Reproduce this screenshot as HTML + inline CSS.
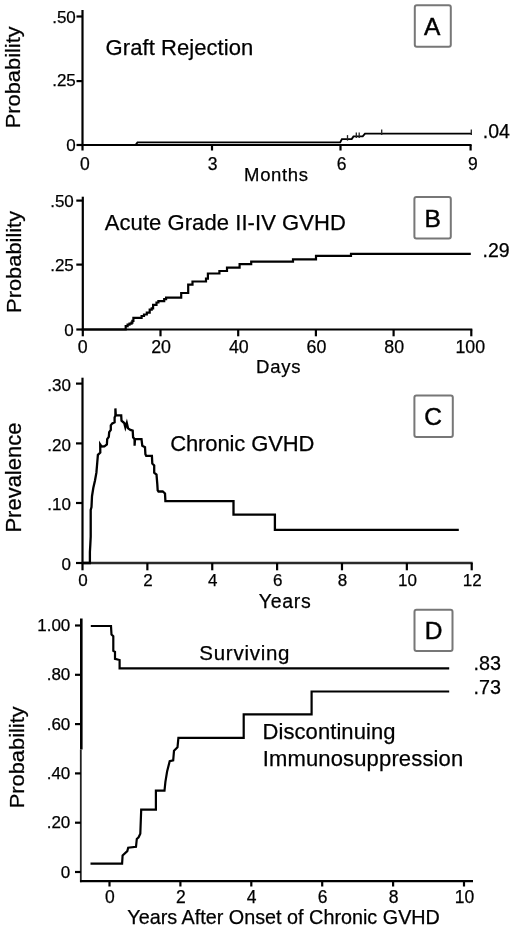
<!DOCTYPE html>
<html><head><meta charset="utf-8"><style>
html,body{margin:0;padding:0;background:#fff;}
svg{display:block;filter:grayscale(100%) blur(0.35px);}
text{font-family:"Liberation Sans", sans-serif;stroke:#000;stroke-width:0.25px;}
</style></head><body>
<svg width="520" height="930" viewBox="0 0 520 930">
<rect width="520" height="930" fill="#fff"/>
<line x1="82.5" y1="10" x2="82.5" y2="146" stroke="#000" stroke-width="2.2"/>
<line x1="81.5" y1="145" x2="471.6" y2="145" stroke="#000" stroke-width="2.2"/>
<line x1="76.5" y1="16.5" x2="82.5" y2="16.5" stroke="#000" stroke-width="2.2"/>
<text x="75.8" y="22.6" font-size="17" text-anchor="end" fill="#000" >.50</text>
<line x1="76.5" y1="81.1" x2="82.5" y2="81.1" stroke="#000" stroke-width="2.2"/>
<text x="75.8" y="85.8" font-size="17" text-anchor="end" fill="#000" >.25</text>
<line x1="76.5" y1="145" x2="82.5" y2="145" stroke="#000" stroke-width="2.2"/>
<text x="75.8" y="151.3" font-size="17" text-anchor="end" fill="#000" >0</text>
<line x1="82.5" y1="145" x2="82.5" y2="150.5" stroke="#000" stroke-width="2.2"/>
<text x="84.9" y="169.5" font-size="17.5" text-anchor="middle" fill="#000" >0</text>
<line x1="212" y1="145" x2="212" y2="150.5" stroke="#000" stroke-width="2.2"/>
<text x="212.5" y="169.5" font-size="17.5" text-anchor="middle" fill="#000" >3</text>
<line x1="340.5" y1="145" x2="340.5" y2="150.5" stroke="#000" stroke-width="2.2"/>
<text x="341.5" y="169.5" font-size="17.5" text-anchor="middle" fill="#000" >6</text>
<line x1="470.6" y1="145" x2="470.6" y2="150.5" stroke="#000" stroke-width="2.2"/>
<text x="472.8" y="169.5" font-size="17.5" text-anchor="middle" fill="#000" >9</text>
<text x="244.1" y="181" font-size="18.5" text-anchor="start" fill="#000" textLength="63.9">Months</text>
<text x="0" y="0" font-size="21" fill="#000" textLength="102" lengthAdjust="spacingAndGlyphs" transform="translate(20.3,128.3) rotate(-90)">Probability</text>
<text x="105.6" y="54.5" font-size="22" text-anchor="start" fill="#000" textLength="147.6">Graft Rejection</text>
<rect x="414.8" y="5.2" width="36.0" height="41.5" rx="2" fill="none" stroke="#777" stroke-width="2"/>
<text x="432.2" y="35.3" font-size="24.5" text-anchor="middle" fill="#000" style="stroke-width:0.45px">A</text>
<polyline points="82.5,145.0 135.5,145.0 137.5,142.4 340.2,142.4 341.9,139.1 351.7,139.1 353.5,136.4 362.7,136.4 365.0,133.6 471.7,133.6" fill="none" stroke="#000" stroke-width="1.9" stroke-linejoin="miter" stroke-linecap="butt"/>
<line x1="347.5" y1="135.1" x2="347.5" y2="140.6" stroke="#222" stroke-width="1.3"/>
<line x1="356.3" y1="132.4" x2="356.3" y2="137.9" stroke="#222" stroke-width="1.3"/>
<line x1="359.2" y1="132.4" x2="359.2" y2="137.9" stroke="#222" stroke-width="1.3"/>
<line x1="381.7" y1="129.6" x2="381.7" y2="135.1" stroke="#222" stroke-width="1.3"/>
<line x1="471.3" y1="129.6" x2="471.3" y2="135.1" stroke="#222" stroke-width="1.3"/>
<text x="482.8" y="137.7" font-size="19.5" text-anchor="start" fill="#000" >.04</text>
<line x1="82.8" y1="196.7" x2="82.8" y2="330.5" stroke="#000" stroke-width="2.2"/>
<line x1="81.8" y1="329.5" x2="472.3" y2="329.5" stroke="#000" stroke-width="2.2"/>
<line x1="76.3" y1="200.6" x2="82.8" y2="200.6" stroke="#000" stroke-width="2.2"/>
<text x="73.8" y="206.9" font-size="17" text-anchor="end" fill="#000" >.50</text>
<line x1="76.3" y1="264.6" x2="82.8" y2="264.6" stroke="#000" stroke-width="2.2"/>
<text x="73.8" y="270.90000000000003" font-size="17" text-anchor="end" fill="#000" >.25</text>
<line x1="76.3" y1="329.5" x2="82.8" y2="329.5" stroke="#000" stroke-width="2.2"/>
<text x="73.8" y="335.8" font-size="17" text-anchor="end" fill="#000" >0</text>
<line x1="82.8" y1="329.5" x2="82.8" y2="336.3" stroke="#000" stroke-width="2.2"/>
<text x="82.8" y="352.8" font-size="17.8" text-anchor="middle" fill="#000" >0</text>
<line x1="160.5" y1="329.5" x2="160.5" y2="336.3" stroke="#000" stroke-width="2.2"/>
<text x="161.1" y="352.8" font-size="17.8" text-anchor="middle" fill="#000" >20</text>
<line x1="238.2" y1="329.5" x2="238.2" y2="336.3" stroke="#000" stroke-width="2.2"/>
<text x="238.79999999999998" y="352.8" font-size="17.8" text-anchor="middle" fill="#000" >40</text>
<line x1="315.90000000000003" y1="329.5" x2="315.90000000000003" y2="336.3" stroke="#000" stroke-width="2.2"/>
<text x="316.50000000000006" y="352.8" font-size="17.8" text-anchor="middle" fill="#000" >60</text>
<line x1="393.6" y1="329.5" x2="393.6" y2="336.3" stroke="#000" stroke-width="2.2"/>
<text x="394.20000000000005" y="352.8" font-size="17.8" text-anchor="middle" fill="#000" >80</text>
<line x1="471.3" y1="329.5" x2="471.3" y2="336.3" stroke="#000" stroke-width="2.2"/>
<text x="470.3" y="352.8" font-size="17.8" text-anchor="middle" fill="#000" >100</text>
<text x="256.1" y="372.7" font-size="18.5" text-anchor="start" fill="#000" textLength="44.4">Days</text>
<text x="0" y="0" font-size="21" fill="#000" textLength="102" lengthAdjust="spacingAndGlyphs" transform="translate(20.7,312.9) rotate(-90)">Probability</text>
<text x="104.8" y="230.2" font-size="22" text-anchor="start" fill="#000" textLength="241">Acute Grade II-IV GVHD</text>
<rect x="414.4" y="196.9" width="36.400000000000034" height="41.599999999999994" rx="2" fill="none" stroke="#777" stroke-width="2"/>
<text x="432.6" y="226.8" font-size="24.5" text-anchor="middle" fill="#000" style="stroke-width:0.45px">B</text>
<polyline points="82.8,329.5 124.7,329.5 124.7,329.5 125.7,329.5 125.7,326.1 127.6,326.1 127.6,324.6 129.5,324.6 129.5,323.7 131.5,323.7 131.5,322.7 132.4,322.7 132.4,320.8 133.4,320.8 133.4,317.9 141.6,317.9 141.6,316.0 144.0,316.0 144.0,314.5 146.8,314.5 146.8,312.6 149.7,312.6 149.7,309.7 151.7,309.7 151.7,308.3 153.1,308.3 153.1,304.9 156.5,304.9 156.5,302.5 158.4,302.5 158.4,301.1 164.2,301.1 164.2,299.1 166.1,299.1 166.1,297.7 181.2,297.7 181.2,293.0 188.2,293.0 188.2,284.6 192.5,284.6 192.5,281.5 206.0,281.5 206.0,278.7 207.9,278.7 207.9,273.5 219.4,273.5 219.4,271.0 227.0,271.0 227.0,267.7 239.6,267.7 239.6,264.2 251.2,264.2 251.2,261.7 293.0,261.7 293.0,259.3 316.0,259.3 316.0,255.8 351.0,255.8 351.0,253.8 470.8,253.8 470.8,253.8" fill="none" stroke="#000" stroke-width="2.2" stroke-linejoin="miter" stroke-linecap="butt"/>
<text x="482.6" y="256.6" font-size="19.5" text-anchor="start" fill="#000" >.29</text>
<line x1="82.5" y1="377.7" x2="82.5" y2="564" stroke="#000" stroke-width="2.2"/>
<line x1="81.5" y1="563" x2="472.7" y2="563" stroke="#2a2a2a" stroke-width="2.3"/>
<line x1="76" y1="383.6" x2="82.5" y2="383.6" stroke="#000" stroke-width="2.2"/>
<text x="71.0" y="390.90000000000003" font-size="17" text-anchor="end" fill="#000" >.30</text>
<line x1="76" y1="443.4" x2="82.5" y2="443.4" stroke="#000" stroke-width="2.2"/>
<text x="71.0" y="450.7" font-size="17" text-anchor="end" fill="#000" >.20</text>
<line x1="76" y1="503" x2="82.5" y2="503" stroke="#000" stroke-width="2.2"/>
<text x="71.0" y="510.3" font-size="17" text-anchor="end" fill="#000" >.10</text>
<line x1="76" y1="563" x2="82.5" y2="563" stroke="#000" stroke-width="2.2"/>
<text x="71.0" y="570.3" font-size="17" text-anchor="end" fill="#000" >0</text>
<line x1="82.5" y1="563" x2="82.5" y2="570.3" stroke="#000" stroke-width="2.2"/>
<text x="83.1" y="585.6" font-size="17" text-anchor="middle" fill="#000" >0</text>
<line x1="147.37" y1="563" x2="147.37" y2="570.3" stroke="#000" stroke-width="2.2"/>
<text x="147.97" y="585.6" font-size="17" text-anchor="middle" fill="#000" >2</text>
<line x1="212.24" y1="563" x2="212.24" y2="570.3" stroke="#000" stroke-width="2.2"/>
<text x="212.84" y="585.6" font-size="17" text-anchor="middle" fill="#000" >4</text>
<line x1="277.11" y1="563" x2="277.11" y2="570.3" stroke="#000" stroke-width="2.2"/>
<text x="277.71000000000004" y="585.6" font-size="17" text-anchor="middle" fill="#000" >6</text>
<line x1="341.98" y1="563" x2="341.98" y2="570.3" stroke="#000" stroke-width="2.2"/>
<text x="342.58000000000004" y="585.6" font-size="17" text-anchor="middle" fill="#000" >8</text>
<line x1="406.85" y1="563" x2="406.85" y2="570.3" stroke="#000" stroke-width="2.2"/>
<text x="407.45000000000005" y="585.6" font-size="17" text-anchor="middle" fill="#000" >10</text>
<line x1="471.72" y1="563" x2="471.72" y2="570.3" stroke="#000" stroke-width="2.2"/>
<text x="472.32000000000005" y="585.6" font-size="17" text-anchor="middle" fill="#000" >12</text>
<text x="258.8" y="607.7" font-size="19.5" text-anchor="start" fill="#000" letter-spacing="0.7">Years</text>
<text x="0" y="0" font-size="22" fill="#000" transform="translate(21.2,532.6) rotate(-90)">Prevalence</text>
<text x="170.2" y="451.2" font-size="22" text-anchor="start" fill="#000" textLength="144.2">Chronic GVHD</text>
<rect x="414.4" y="395.6" width="38.400000000000034" height="41.5" rx="2" fill="none" stroke="#777" stroke-width="2"/>
<text x="433.0" y="424.5" font-size="24.5" text-anchor="middle" fill="#000" style="stroke-width:0.45px">C</text>
<polyline points="82.5,563.0 89.9,563.0 89.9,552.0 90.3,545.0 90.7,536.6 90.7,510.0 91.5,507.0 92.0,496.2 93.3,488.0 95.0,480.5 96.4,472.7 97.3,462.0 97.9,454.8 100.3,452.5 100.2,444.5 101.5,446.5 104.4,446.4 106.9,444.5 107.2,439.2 108.8,436.8 109.2,432.2 110.8,429.9 110.8,425.3 112.3,423.4 114.6,422.2 114.6,417.6 115.4,415.7 115.4,408.4 115.8,415.3 121.2,415.3 121.5,420.7 124.2,423.0 125.4,427.6 126.8,423.0 128.1,428.4 130.4,429.9 132.7,430.7 133.1,437.3 134.6,439.2 134.6,445.8 135.0,439.2 141.5,439.2 142.3,445.8 145.0,447.3 145.4,454.2 146.2,455.8 151.9,455.8 152.3,463.5 154.2,465.4 154.2,472.7 156.5,474.6 157.3,484.2 157.7,490.4 158.5,491.5 162.7,491.5 165.0,493.5 165.4,501.1 233.5,501.1 233.5,514.7 274.9,514.7 274.9,529.8 458.8,529.8" fill="none" stroke="#000" stroke-width="2.3" stroke-linejoin="miter" stroke-linecap="butt"/>
<line x1="81.3" y1="618.5" x2="81.3" y2="749.5" stroke="#000" stroke-width="2.6"/>
<line x1="80.8" y1="749.5" x2="80.8" y2="882.2" stroke="#222" stroke-width="1.8"/>
<line x1="80" y1="881.2" x2="473" y2="881.2" stroke="#000" stroke-width="2.2"/>
<line x1="75" y1="625.5" x2="81" y2="625.5" stroke="#000" stroke-width="2.2"/>
<text x="70.3" y="631.1" font-size="17" text-anchor="end" fill="#000" >1.00</text>
<line x1="75" y1="674.8" x2="81" y2="674.8" stroke="#000" stroke-width="2.2"/>
<text x="70.3" y="680.4" font-size="17" text-anchor="end" fill="#000" >.80</text>
<line x1="75" y1="724.1" x2="81" y2="724.1" stroke="#000" stroke-width="2.2"/>
<text x="70.3" y="729.7" font-size="17" text-anchor="end" fill="#000" >.60</text>
<line x1="75" y1="773.4" x2="81" y2="773.4" stroke="#000" stroke-width="2.2"/>
<text x="70.3" y="779.0" font-size="17" text-anchor="end" fill="#000" >.40</text>
<line x1="75" y1="822.7" x2="81" y2="822.7" stroke="#000" stroke-width="2.2"/>
<text x="70.3" y="828.3000000000001" font-size="17" text-anchor="end" fill="#000" >.20</text>
<line x1="75" y1="872.0" x2="81" y2="872.0" stroke="#000" stroke-width="2.2"/>
<text x="70.3" y="877.6" font-size="17" text-anchor="end" fill="#000" >0</text>
<line x1="109.5" y1="881.2" x2="109.5" y2="886.5" stroke="#000" stroke-width="2.2"/>
<text x="109.9" y="902.8" font-size="17.5" text-anchor="middle" fill="#000" >0</text>
<line x1="180.4" y1="881.2" x2="180.4" y2="886.5" stroke="#000" stroke-width="2.2"/>
<text x="180.8" y="902.8" font-size="17.5" text-anchor="middle" fill="#000" >2</text>
<line x1="251.3" y1="881.2" x2="251.3" y2="886.5" stroke="#000" stroke-width="2.2"/>
<text x="251.70000000000002" y="902.8" font-size="17.5" text-anchor="middle" fill="#000" >4</text>
<line x1="322.20000000000005" y1="881.2" x2="322.20000000000005" y2="886.5" stroke="#000" stroke-width="2.2"/>
<text x="322.6" y="902.8" font-size="17.5" text-anchor="middle" fill="#000" >6</text>
<line x1="393.1" y1="881.2" x2="393.1" y2="886.5" stroke="#000" stroke-width="2.2"/>
<text x="393.5" y="902.8" font-size="17.5" text-anchor="middle" fill="#000" >8</text>
<line x1="464.0" y1="881.2" x2="464.0" y2="886.5" stroke="#000" stroke-width="2.2"/>
<text x="464.4" y="902.8" font-size="17.5" text-anchor="middle" fill="#000" >10</text>
<text x="127.3" y="923.6" font-size="19.8" text-anchor="start" fill="#000" >Years After Onset of Chronic GVHD</text>
<text x="0" y="0" font-size="21" fill="#000" textLength="102" lengthAdjust="spacingAndGlyphs" transform="translate(23.7,808.3) rotate(-90)">Probability</text>
<text x="199.3" y="659.6" font-size="20.5" text-anchor="start" fill="#000" textLength="90.2">Surviving</text>
<text x="262.6" y="739.2" font-size="22" text-anchor="start" fill="#000" textLength="132.9">Discontinuing</text>
<text x="262.7" y="766.1" font-size="22" text-anchor="start" fill="#000" textLength="200.5">Immunosuppression</text>
<rect x="414.5" y="609.7" width="38.0" height="41.39999999999998" rx="2" fill="none" stroke="#777" stroke-width="2"/>
<text x="433.5" y="639.0" font-size="24.5" text-anchor="middle" fill="#000" style="stroke-width:0.45px">D</text>
<polyline points="90.8,626.0 111.0,626.0 111.5,634.6 113.3,636.3 113.3,650.8 115.0,651.9 115.0,658.8 119.6,660.0 119.6,668.3 449.2,668.3" fill="none" stroke="#000" stroke-width="2.2" stroke-linejoin="miter" stroke-linecap="butt"/>
<polyline points="90.5,863.6 122.1,863.6 122.6,855.5 127.3,851.1 128.2,847.7 136.0,846.8 136.8,839.0 138.6,837.3 140.3,833.8 141.2,809.6 155.9,809.6 155.9,790.6 164.5,790.6 165.4,781.9 167.1,771.5 169.7,761.2 173.2,760.3 174.0,750.8 177.5,747.3 178.4,737.8 243.7,737.8 243.7,714.3 311.6,714.3 311.6,691.5 449.2,691.5" fill="none" stroke="#000" stroke-width="2.2" stroke-linejoin="miter" stroke-linecap="butt"/>
<text x="473.6" y="669.7" font-size="19.8" text-anchor="start" fill="#000" >.83</text>
<text x="473.6" y="694.3" font-size="19.8" text-anchor="start" fill="#000" >.73</text>
</svg>
</body></html>
